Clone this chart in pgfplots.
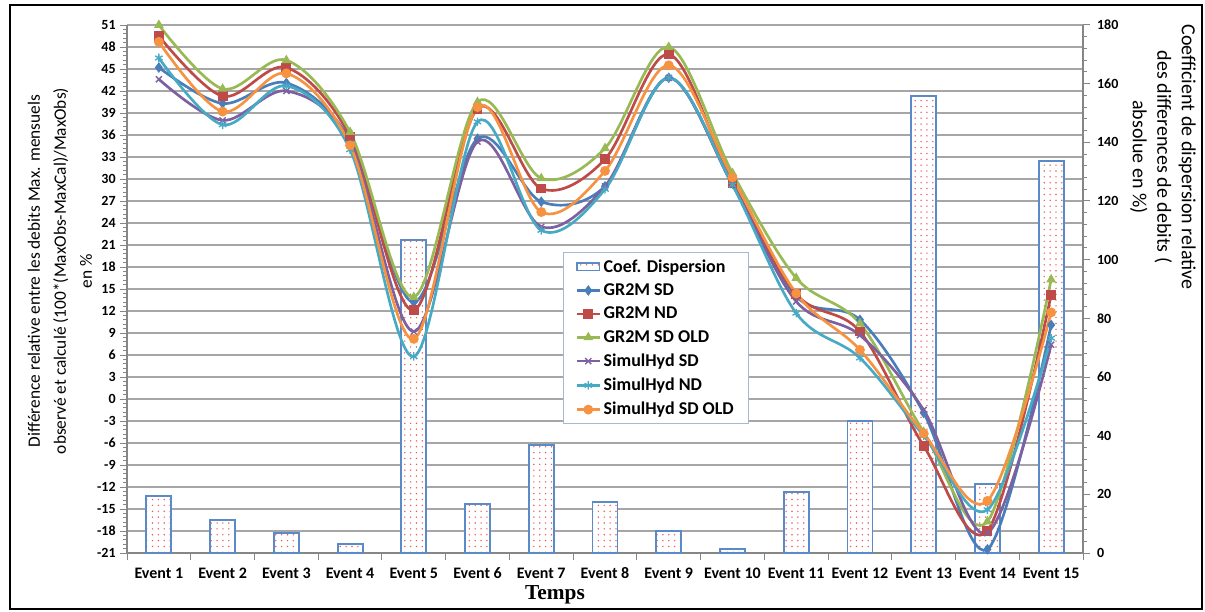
\documentclass[border=0pt]{standalone}
\usepackage{fontspec}
\setmainfont{Carlito}
\newfontfamily\timesfont{Liberation Serif}
\usepackage{pgfplots}
\pgfplotsset{compat=1.18}
\usetikzlibrary{patterns.meta}
\definecolor{cblue}{HTML}{4A7EBB}
\definecolor{cred}{HTML}{BE4B48}
\definecolor{cgreen}{HTML}{98B954}
\definecolor{cpurple}{HTML}{7D60A0}
\definecolor{ccyan}{HTML}{46AAC5}
\definecolor{corange}{HTML}{F69240}
\definecolor{gridgray}{HTML}{A6A6A6}
\definecolor{axgray}{HTML}{868686}
\definecolor{legendgray}{HTML}{A7B9D3}
\definecolor{dotred}{HTML}{F05A5A}
\definecolor{barblue}{HTML}{5B8AC8}
\tikzdeclarepattern{
  name=sdots,
  type=uncolored,
  bounding box={(-0.6pt,-0.6pt) and (0.6pt,0.6pt)},
  tile size={(4.4pt,4.4pt)},
  code={\fill (0pt,0pt) circle (0.6pt);}
}
\pgfplotsset{
  common/.style={
    at={(95.25pt,43.5pt)}, anchor=south west,
    scale only axis, width=717pt, height=396pt,
    xmin=0.5, xmax=15.5,
    tick align=outside,
    major tick length=5pt, minor tick length=3pt,
    every tick/.style={draw=axgray, line width=0.75pt},
    axis line style={draw=axgray, line width=1pt, -},
    tick label style={font=\bfseries\fontsize{10.5}{12}\selectfont},
    /pgf/number format/assume math mode=true,
  },
  lin/.style={smooth, tension=0.55, line width=2pt, mark size=3.2pt, mark options={solid, line width=1pt}},
}
\begin{document}
\begin{tikzpicture}
\path[use as bounding box] (0,0) rectangle (903.75pt,458.25pt);
\draw[line width=2pt] (7.5pt,1.5pt) rectangle (901.5pt,454.5pt);

% left axis with grid
\begin{axis}[common,
  ymin=-21, ymax=51,
  axis x line*=bottom, axis y line*=left,
  ytick={-21,-18,...,51}, minor y tick num=4,
  ymajorgrids, grid style={draw=gridgray, line width=1pt},
  xtick={0.5,1.5,...,15.5}, x tick label as interval,
  xticklabels={Event 1,Event 2,Event 3,Event 4,Event 5,Event 6,Event 7,Event 8,Event 9,Event 10,Event 11,Event 12,Event 13,Event 14,Event 15},
  x tick label style={font=\bfseries\fontsize{12}{14}\selectfont, text height=8.5pt, text depth=2pt, yshift=-2pt},
]
\end{axis}

% right axis with bars
\begin{axis}[common,
  ymin=0, ymax=180,
  axis y line*=right, hide x axis,
  ytick={0,20,...,180}, minor y tick num=4,
  yticklabel style={xshift=2pt},
]
\addplot[ybar, bar width=18.75pt, draw=barblue, line width=1.4pt, preaction={fill=white}, pattern=sdots, pattern color=dotred]
coordinates {(1,19.4) (2,11.2) (3,6.8) (4,3.1) (5,106.6) (6,16.7) (7,36.8) (8,17.4) (9,7.5) (10,1.4) (11,20.8) (12,44.9) (13,155.8) (14,23.4) (15,133.5)};
\end{axis}

% lines
\begin{axis}[common,
  ymin=-21, ymax=51, hide axis, clip=false,
  legend style={at={(0.456,0.570)}, anchor=north west, draw=legendgray, line width=1pt,
    font=\bfseries\fontsize{13.5}{15}\selectfont, row sep=3.2pt, inner xsep=9pt, inner ysep=3pt,
    cells={anchor=west}},
]
\addlegendimage{area legend, draw=barblue, line width=1pt, preaction={fill=white}, pattern=sdots, pattern color=dotred}
\addlegendentry{Coef. Dispersion}
\addplot[lin, color=cblue, mark=diamond*] coordinates {(1,45.2) (2,40.3) (3,43.1) (4,35.3) (5,13.2) (6,35.5) (7,26.9) (8,29.0) (9,43.8) (10,29.4) (11,14.0) (12,10.8) (13,-1.9) (14,-20.5) (15,10.1)};
\addlegendentry{GR2M SD}
\addplot[lin, color=cred, mark=square*] coordinates {(1,49.5) (2,41.3) (3,45.2) (4,35.8) (5,12.1) (6,39.6) (7,28.7) (8,32.7) (9,47.0) (10,29.5) (11,14.3) (12,9.2) (13,-6.4) (14,-18.0) (15,14.2)};
\addlegendentry{GR2M ND}
\addplot[lin, color=cgreen, mark=triangle*] coordinates {(1,51.0) (2,42.3) (3,46.2) (4,36.4) (5,13.9) (6,40.5) (7,30.1) (8,34.2) (9,48.0) (10,30.8) (11,16.5) (12,10.3) (13,-4.5) (14,-16.7) (15,16.3)};
\addlegendentry{GR2M SD OLD}
\addplot[lin, color=cpurple, mark=x] coordinates {(1,43.6) (2,38.0) (3,42.0) (4,35.0) (5,9.2) (6,35.1) (7,23.5) (8,29.0) (9,43.8) (10,29.2) (11,13.3) (12,8.7) (13,-1.5) (14,-18.3) (15,7.4)};
\addlegendentry{SimulHyd SD}
\addplot[lin, color=ccyan, mark=asterisk] coordinates {(1,46.5) (2,37.4) (3,42.7) (4,34.0) (5,5.8) (6,37.8) (7,23.0) (8,28.6) (9,43.8) (10,29.2) (11,11.7) (12,5.6) (13,-5.0) (14,-15.1) (15,8.3)};
\addlegendentry{SimulHyd ND}
\addplot[lin, color=corange, mark=*] coordinates {(1,48.7) (2,39.2) (3,44.4) (4,34.6) (5,8.2) (6,39.8) (7,25.5) (8,31.1) (9,45.5) (10,30.2) (11,14.4) (12,6.7) (13,-4.7) (14,-13.9) (15,11.8)};
\addlegendentry{SimulHyd SD OLD}
\end{axis}

\node[rotate=90, align=center, font=\fontsize{13}{19.5}\selectfont] at (45pt,255pt)
  {Différence relative entre les debits Max. mensuels\\observé et calculé (100*(MaxObs-MaxCal)/MaxObs)\\en \%};
\node[rotate=-90, align=center, font=\fontsize{15}{18.4}\selectfont] at (872.25pt,340.5pt)
  {Coefficient de dispersion relative\\des differences de debits (\\absolue en \%)};
\node[font=\timesfont\bfseries\fontsize{16}{18}\selectfont] at (416.25pt,12pt) {Temps};
\end{tikzpicture}
\end{document}
